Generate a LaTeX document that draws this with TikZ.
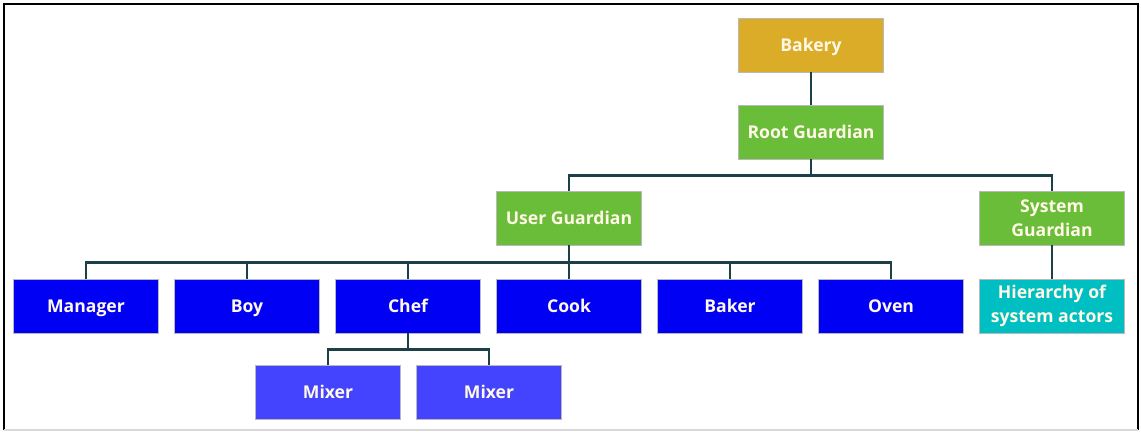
\documentclass[tikz,border=0pt]{standalone}
\usepackage{fontspec}
\setmainfont{Open Sans}
\usepackage{tikz}
\usetikzlibrary{positioning, calc}
\definecolor{bakerygold}{HTML}{DAAC28}
\definecolor{guardgreen}{HTML}{6ABD38}
\definecolor{actorblue}{HTML}{0000F5}
\definecolor{mixerblue}{HTML}{4444FF}
\definecolor{sysactor}{HTML}{00BFC2}
\definecolor{linkteal}{HTML}{1D3F48}
\definecolor{labelcream}{HTML}{FFF8E6}
\tikzset{
    box/.style={draw=gray!55, line width=0.4pt, minimum width=72.5pt, minimum height=27pt,
        text=labelcream, font=\fontsize{8.8}{11.8}\selectfont\bfseries, align=center, inner sep=1pt},
    oneline/.style={box, text height=1.55ex, text depth=0.4ex},
    link/.style={linkteal, line width=1.3pt}
}

\begin{document}
\begin{tikzpicture}[x=0.5pt, y=-0.5pt]

\useasboundingbox (0,0) rectangle (1141,432);
\draw[black, line width=1.3pt] (4,430) -- (4,4) -- (1138,4) -- (1138,430);
\draw[gray!30, line width=0.8pt] (4,430) -- (1138,430);

\node[oneline, fill=bakerygold] (bakery) at (811,45) {Bakery};
\node[oneline, fill=guardgreen] (root) at (811,132) {Root Guardian};
\node[oneline, fill=guardgreen] (user) at (569,218) {User Guardian};
\node[box, fill=guardgreen] (system) at (1052,218) {System\\Guardian};

\node[oneline, fill=actorblue] (manager) at (86,306) {Manager};
\node[oneline, fill=actorblue] (boy) at (247,306) {Boy};
\node[oneline, fill=actorblue] (chef) at (408,306) {Chef};
\node[oneline, fill=actorblue] (cook) at (569,306) {Cook};
\node[oneline, fill=actorblue] (baker) at (730,306) {Baker};
\node[oneline, fill=actorblue] (oven) at (891,306) {Oven};
\node[box, fill=sysactor] (sysactors) at (1052,306) {Hierarchy of\\system actors};

\node[oneline, fill=mixerblue] (mixerA) at (328,392) {Mixer};
\node[oneline, fill=mixerblue] (mixerB) at (489,392) {Mixer};

\draw[link] (bakery) -- (root);
\draw[link] (system) -- (sysactors);

\draw[link] (root.south) -- ++(0,16) coordinate (rootbus);
\foreach \kid in {user, system}
    \draw[link] (rootbus) -| (\kid.north);

\draw[link] (user.south) -- ++(0,17) coordinate (userbus);
\foreach \kid in {manager, boy, chef, cook, baker, oven}
    \draw[link] (userbus) -| (\kid.north);

\draw[link] (chef.south) -- ++(0,16) coordinate (chefbus);
\foreach \kid in {mixerA, mixerB}
    \draw[link] (chefbus) -| (\kid.north);

\end{tikzpicture}
\end{document}
